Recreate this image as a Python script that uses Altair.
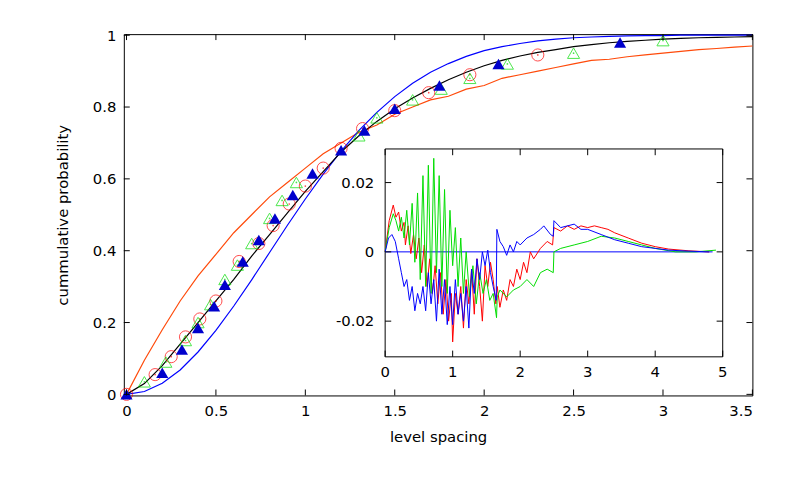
import pandas as pd
import altair as alt

# main panel: theoretical curves read at s = 0, 0.1, ..., 3.5
s_grid = [round(i * 0.1, 1) for i in range(36)]
poisson = [0, .095, .18, .26, .33, .39, .45, .50, .55, .59, .63, .67, .70, .73, .75, .78, .80, .82,
           .83, .85, .86, .88, .89, .90, .91, .92, .93, .933, .94, .945, .95, .955, .96, .963, .967, .97]
wigner = [0, .008, .031, .068, .118, .178, .246, .319, .395, .471, .544, .613, .677, .735, .785, .829,
          .866, .897, .921, .941, .957, .968, .977, .984, .989, .993, .995, .997, .998, .999, .999,
          1, 1, 1, 1, 1]
middle = [0, .03, .08, .14, .20, .26, .32, .385, .445, .505, .565, .62, .675, .72, .76, .795, .825,
          .852, .876, .897, .915, .93, .942, .952, .96, .968, .974, .979, .983, .986, .989, .991,
          .993, .994, .995, .996]

circ_x = [0, .16, .25, .33, .41, .5, .63, .74, .82, .91, 1.0, 1.1, 1.2, 1.32, 1.5, 1.69, 1.92, 2.3]
circ_y = [0, .055, .105, .16, .21, .26, .37, .42, .47, .53, .58, .63, .685, .74, .79, .84, .89, .945]
gtri_x = [.1, .22, .33, .4, .47, .55, .62, .7, .8, .87, .95, 1.3, 1.4, 1.6, 1.76, 1.92, 2.13, 2.5, 3.0]
gtri_y = [.035, .09, .15, .2, .25, .32, .36, .42, .49, .54, .59, .72, .77, .82, .85, .88, .92, .95, .985]
btri_x = [0, .2, .31, .4, .49, .55, .65, .74, .83, .93, 1.04, 1.2, 1.33, 1.5, 1.75, 2.08, 2.76]
btri_y = [0, .06, .125, .185, .245, .305, .37, .43, .49, .555, .615, .68, .735, .795, .86, .92, .98]

# inset: deviations
red_x = [0, .06, .12, .16, .2, .24, .28, .3, .34, .38, .42, .46, .5, .54, .58, .62, .66, .7, .74, .78,
         .82, .86, .9, .94, .98, 1.0, 1.04, 1.08, 1.12, 1.16, 1.2, 1.24, 1.28, 1.32, 1.36, 1.4, 1.44,
         1.48, 1.52, 1.56, 1.6, 1.64, 1.66, 1.7, 1.75, 1.8, 1.85, 1.9, 1.95, 2.0, 2.05, 2.1, 2.15, 2.2,
         2.3, 2.4, 2.48, 2.5, 2.6, 2.7, 2.8, 2.9, 3.0, 3.1, 3.2, 3.3, 3.4, 3.6, 3.8, 4.0, 4.2, 4.5, 4.8]
red_y = [0, .009, .0135, .01, .0115, .006, .0085, .002, .0075, -.0005, .005, -.002, .004, -.006, .002,
         -.01, -.002, -.012, -.004, -.015, -.006, -.018, -.008, -.02, -.012, -.026, -.012, -.018, -.01,
         -.022, -.008, -.015, -.005, -.018, -.002, -.01, -.02, -.004, -.01, -.003, -.008, -.015, -.01,
         -.016, -.011, -.014, -.008, -.01, -.005, -.008, -.003, -.006, 0, -.002, .001, .003, .002, .007,
         .006, .0075, .0065, .0075, .007, .0075, .007, .0065, .0055, .004, .0025, .0015, .0008, .0003, 0]
green_x = [0, .06, .12, .16, .2, .24, .28, .32, .36, .4, .44, .48, .52, .56, .6, .64, .68, .72, .76,
           .8, .84, .88, .92, .96, 1.0, 1.04, 1.08, 1.12, 1.16, 1.2, 1.25, 1.3, 1.35, 1.4, 1.45, 1.5,
           1.55, 1.6, 1.65, 1.66, 1.7, 1.8, 1.9, 2.0, 2.1, 2.2, 2.3, 2.4, 2.49, 2.5, 2.6, 2.8, 3.0, 3.2,
           3.4, 3.6, 3.8, 4.0, 4.3, 4.6, 4.9]
green_y = [0, .007, .011, .009, .006, .01, .004, .012, .002, .014, -.003, .017, -.008, .022, -.01, .025,
           -.012, .027, -.006, .022, -.01, .018, -.012, .012, -.004, .007, -.01, .004, -.012, 0, -.013,
           -.004, -.015, -.006, -.012, -.008, -.014, -.012, -.019, -.013, -.011, -.013, -.011, -.01,
           -.008, -.01, -.006, -.005, -.006, 0, .001, .002, .003, .0045, .004, .003, .002, .001, 0, 0,
           .0005]
blue_x = [0, .05, .1, .15, .2, .24, .28, .32, .36, .4, .44, .48, .52, .56, .6, .64, .68, .72, .76, .8,
          .84, .88, .92, .96, 1.0, 1.04, 1.08, 1.12, 1.16, 1.2, 1.24, 1.28, 1.32, 1.36, 1.4, 1.44, 1.48,
          1.52, 1.56, 1.6, 1.645, 1.655, 1.7, 1.75, 1.8, 1.85, 1.9, 1.95, 2.0, 2.1, 2.2, 2.3, 2.35, 2.45,
          2.49, 2.5, 2.6, 2.7, 2.8, 2.9, 3.0, 3.2, 3.4, 3.6, 3.8, 4.0, 4.2, 4.5, 4.8]
blue_y = [0, .004, .005, .003, -.002, -.006, -.01, -.008, -.014, -.01, -.017, -.012, -.015, -.01, -.017,
          -.006, -.015, -.008, -.02, -.005, -.018, -.008, -.021, -.01, -.021, -.008, -.018, -.012, -.02,
          -.01, -.022, -.005, -.012, -.002, -.008, 0, -.004, .0005, -.006, -.01, -.014, .0065, .003,
          .0015, -.001, .002, 0, .003, .002, .004, .005, .0065, .0075, .005, .0045, .009, .007, .0075,
          .008, .0065, .0065, .005, .0035, .0025, .0015, .001, .0005, .0002, 0]

inset_xt = [0, 1, 2, 3, 4, 5]
inset_yt = [-0.02, 0, 0.02]
main_xt = [0, 0.5, 1, 1.5, 2, 2.5, 3, 3.5]
main_yt = [0, 0.2, 0.4, 0.6, 0.8, 1]

FONT = "DejaVu Sans"
W, H = 635, 365
xs = alt.Scale(domain=[-0.015, 3.5], range=[0, W], nice=False, zero=False)
ys = alt.Scale(domain=[-0.003, 1.003], range=[H, 0], nice=False, zero=False)
ixs = alt.Scale(domain=[0, 5], range=[264, 605], nice=False, zero=False)
iys = alt.Scale(domain=[-0.0303, 0.0297], range=[326, 116], nice=False, zero=False)

curves = pd.DataFrame({"s": s_grid * 3, "p": poisson + wigner + middle,
                       "k": ["poisson"] * 36 + ["wigner"] * 36 + ["mid"] * 36})
line = alt.Chart(curves).mark_line(strokeWidth=1.2).encode(
    x=alt.X("s:Q", scale=xs, title="level spacing",
            axis=alt.Axis(values=main_xt, grid=False, ticks=False, labelFontSize=15, titleFontSize=15,
                          labelFont=FONT, titleFont=FONT, labelColor="black", titleFontWeight="normal",
                          domain=False, labelPadding=8, titlePadding=12, format="~g")),
    y=alt.Y("p:Q", scale=ys, title="cummulative probability",
            axis=alt.Axis(values=main_yt, grid=False, ticks=False, labelFontSize=15, titleFontSize=15,
                          labelFont=FONT, titleFont=FONT, labelColor="black", titleFontWeight="normal",
                          domain=False, labelPadding=8, titlePadding=22, format="~g")),
    color=alt.Color("k:N", legend=None, scale=alt.Scale(domain=["poisson", "wigner", "mid"],
                                                        range=["#ff4a0a", "#0000ff", "#000000"])),
    detail="k:N",
)


def pts(xv, yv, **kw):
    return alt.Chart(pd.DataFrame({"s": xv, "p": yv})).mark_point(**kw).encode(
        x=alt.X("s:Q", scale=xs, axis=None), y=alt.Y("p:Q", scale=ys, axis=None))


circles = pts(circ_x, circ_y, shape="circle", size=150, color="#ff0000", strokeWidth=1)
cdots = pts(circ_x, circ_y, shape="circle", size=3, filled=True, color="#ff0000")
gtri = pts(gtri_x, gtri_y, shape="triangle-up", size=150, color="#00dd00", strokeWidth=1)
gdots = pts(gtri_x, gtri_y, shape="circle", size=3, filled=True, color="#00dd00")
btri = pts(btri_x, btri_y, shape="triangle-up", size=150, filled=True, color="#0000cc", opacity=1)

mx = pd.DataFrame({"t": main_xt})
my = pd.DataFrame({"t": main_yt})
tick_top = alt.Chart(mx).mark_rule(color="black").encode(
    x=alt.X("t:Q", scale=xs, axis=None), y=alt.value(0), y2=alt.value(6))
tick_bot = alt.Chart(mx).mark_rule(color="black").encode(
    x=alt.X("t:Q", scale=xs, axis=None), y=alt.value(H), y2=alt.value(H - 6))
tick_l = alt.Chart(my).mark_rule(color="black").encode(
    y=alt.Y("t:Q", scale=ys, axis=None), x=alt.value(0), x2=alt.value(6))
tick_r = alt.Chart(my).mark_rule(color="black").encode(
    y=alt.Y("t:Q", scale=ys, axis=None), x=alt.value(W), x2=alt.value(W - 6))

# inset, with its own scales placed inside the main plot area
ibox = alt.Chart(pd.DataFrame({"x": [0], "x2": [5], "y": [-0.0303], "y2": [0.0297]})).mark_rect(
    fill="white", stroke="black", strokeWidth=1).encode(
    x=alt.X("x:Q", scale=ixs, axis=None), x2="x2:Q",
    y=alt.Y("y:Q", scale=iys, axis=None), y2="y2:Q")
dev = pd.concat([
    pd.DataFrame({"x": red_x, "y": red_y, "k": "r"}),
    pd.DataFrame({"x": green_x, "y": green_y, "k": "g"}),
    pd.DataFrame({"x": blue_x, "y": blue_y, "k": "b"}),
])
ilines = alt.Chart(dev).mark_line(strokeWidth=1).encode(
    x=alt.X("x:Q", scale=ixs, axis=None), y=alt.Y("y:Q", scale=iys, axis=None),
    color=alt.Color("k:N", legend=None, scale=alt.Scale(domain=["r", "g", "b"],
                                                        range=["#ff0000", "#00dd00", "#0000ff"])),
    detail="k:N")
zero = alt.Chart(pd.DataFrame({"x": [0], "x2": [4.85], "y": [0]})).mark_rule(color="#0000ff").encode(
    x=alt.X("x:Q", scale=ixs, axis=None), x2="x2:Q", y=alt.Y("y:Q", scale=iys, axis=None))

ixt = pd.DataFrame({"x": inset_xt, "lab": [str(v) for v in inset_xt],
                    "yb": -0.0303, "yb2": -0.0285, "yt": 0.0297, "yt2": 0.0279})
ixtick_b = alt.Chart(ixt).mark_rule(color="black").encode(
    x=alt.X("x:Q", scale=ixs, axis=None), y=alt.Y("yb:Q", scale=iys, axis=None), y2="yb2:Q")
ixtick_t = alt.Chart(ixt).mark_rule(color="black").encode(
    x=alt.X("x:Q", scale=ixs, axis=None), y=alt.Y("yt:Q", scale=iys, axis=None), y2="yt2:Q")
ixlab = alt.Chart(ixt).mark_text(font=FONT, fontSize=15, baseline="top", dy=8).encode(
    x=alt.X("x:Q", scale=ixs, axis=None), y=alt.Y("yb:Q", scale=iys, axis=None), text="lab:N")
iyt = pd.DataFrame({"y": inset_yt, "lab": ["-0.02", "0", "0.02"],
                    "xl": 0, "xl2": 0.09, "xr": 5, "xr2": 4.91})
iytick_l = alt.Chart(iyt).mark_rule(color="black").encode(
    y=alt.Y("y:Q", scale=iys, axis=None), x=alt.X("xl:Q", scale=ixs, axis=None), x2="xl2:Q")
iytick_r = alt.Chart(iyt).mark_rule(color="black").encode(
    y=alt.Y("y:Q", scale=iys, axis=None), x=alt.X("xr:Q", scale=ixs, axis=None), x2="xr2:Q")
iylab = alt.Chart(iyt).mark_text(font=FONT, fontSize=15, align="right", dx=-11).encode(
    y=alt.Y("y:Q", scale=iys, axis=None), x=alt.X("xl:Q", scale=ixs, axis=None), text="lab:N")

chart = alt.layer(
    line, circles, cdots, gtri, gdots, btri, tick_top, tick_bot, tick_l, tick_r,
    ibox, zero, ilines, ixtick_b, ixtick_t, ixlab, iytick_l, iytick_r, iylab,
).resolve_scale(x="independent", y="independent", color="independent").properties(
    width=W, height=H, autosize=alt.AutoSizeParams(type="none"),
    padding={"left": 117, "top": 24, "right": 40, "bottom": 81},
).configure_view(stroke="black", strokeWidth=1)

chart.save("out.html", embed_options={"renderer": "svg", "actions": False})
